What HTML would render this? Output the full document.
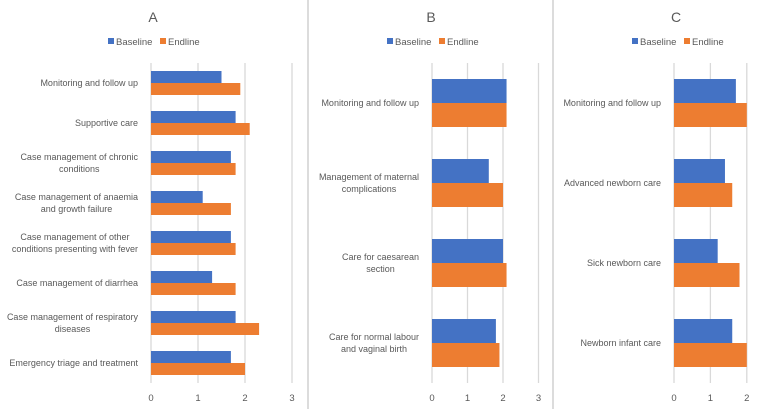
<!DOCTYPE html>
<html><head><meta charset="utf-8"><style>
body{margin:0;background:#fff;width:780px;height:409px;overflow:hidden;font-family:"Liberation Sans",sans-serif}
svg text{font-family:"Liberation Sans",sans-serif;fill:#595959}
</style></head><body>
<svg id="s" width="780" height="409">
<line x1="308" y1="0" x2="308" y2="409" stroke="#d0d0d0" stroke-width="1.5"/>
<line x1="553" y1="0" x2="553" y2="409" stroke="#d0d0d0" stroke-width="1.5"/>
</svg>
<script>
const catsA=[["Monitoring and follow up"],["Supportive care"],["Case management of chronic","conditions"],["Case management of anaemia","and growth failure"],["Case management of other","conditions presenting with fever"],["Case management of diarrhea"],["Case management of respiratory","diseases"],["Emergency triage and treatment"]];
const baseA=[1.5,1.8,1.7,1.1,1.7,1.3,1.8,1.7];
const endA=[1.9,2.1,1.8,1.7,1.8,1.8,2.3,2.0];
const ticksA=[0,1,2,3];
const catsB=[["Monitoring and follow up"],["Management of maternal","complications"],["Care for caesarean","section"],["Care for normal labour","and vaginal birth"]];
const baseB=[2.1,1.6,2.0,1.8];
const endB=[2.1,2.0,2.1,1.9];
const ticksB=[0,1,2,3];
const catsC=[["Monitoring and follow up"],["Advanced newborn care"],["Sick newborn care"],["Newborn infant care"]];
const baseC=[1.7,1.4,1.2,1.6];
const endC=[2.0,1.6,1.8,2.0];
const ticksC=[0,1,2];

const svg=document.getElementById('s');
const NS="http://www.w3.org/2000/svg";
function mk(tag,at,parent){const e=document.createElementNS(NS,tag);for(const k in at)e.setAttribute(k,at[k]);(parent||svg).appendChild(e);return e;}

function panel(id,title,titleX,legX,x0,unit,cats,base,end,ticks){
  const g=mk('g',{});
  
  
  const top=63,bottom=383;
  const xs=v=>x0+v*unit;
  const t=mk('text',{x:titleX,y:22,'font-size':14,'text-anchor':'middle'},g);t.textContent=title;
  
  
  const lg=mk('g',{},g);
  
  
  [["Baseline","#4472C4",legX],["Endline","#ED7D31",legX+52]].forEach(([n,c,x])=>{
    const r=mk('rect',{x:x,y:38,width:6,height:6,fill:c},lg);
    
    
    const tx=mk('text',{x:x+8,y:45,'font-size':9.5},lg);tx.textContent=n;
    
    
  });
  ticks.forEach(v=>{
    const l=mk('line',{x1:xs(v),x2:xs(v),y1:top,y2:bottom,stroke:'#d9d9d9','stroke-width':1.3},g);
    
    
    const tx=mk('text',{x:xs(v),y:401,'font-size':9.5,'text-anchor':'middle'},g);tx.textContent=v;
    
    
  });
  const band=(bottom-top)/cats.length, bh=band*0.3;
  cats.forEach((c,i)=>{
    const cy=top+band*i+band/2;
    const b=mk('rect',{x:xs(0),y:cy-bh,width:xs(base[i])-xs(0),height:bh,fill:'#4472C4'},g);
    
    
    const e=mk('rect',{x:xs(0),y:cy,width:xs(end[i])-xs(0),height:bh,fill:'#ED7D31'},g);
    
    
    const tx=mk('text',{'font-size':9,'text-anchor':'middle'},g);
    
    
    const y0=cy+3-(c.length-1)*6;
    const spans=c.map((line,j)=>{const ts=mk('tspan',{y:y0+j*12},tx);ts.textContent=line;return ts;});
    let w=0;spans.forEach(s=>{w=Math.max(w,s.getComputedTextLength());});
    const cx=x0-13-w/2;
    spans.forEach(s=>s.setAttribute('x',cx));
  });
}
panel('a','A',153,108,151,47,catsA,baseA,endA,ticksA);
panel('b','B',431,387,432,35.5,catsB,baseB,endB,ticksB);
panel('c','C',676,632,674,36.4,catsC,baseC,endC,ticksC);
</script>
</body></html>
